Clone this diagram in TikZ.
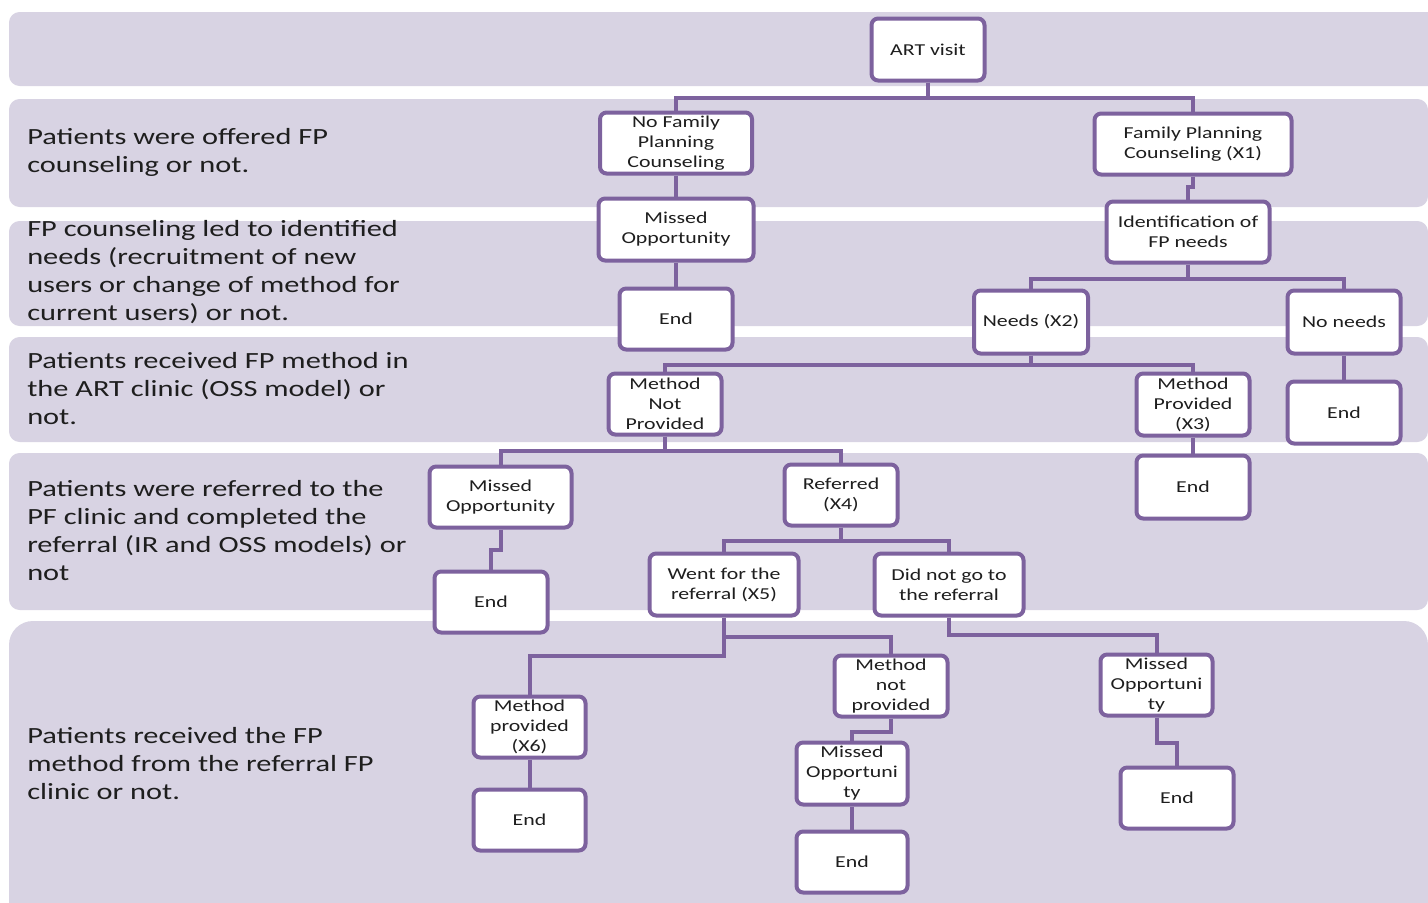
\documentclass[tikz,border=0pt]{standalone}
\usepackage{fontspec}
\setmainfont{Carlito}[FakeStretch=1.31]
\definecolor{band}{RGB}{216,211,227}
\definecolor{pur}{RGB}{125,98,158}
\definecolor{txt}{RGB}{30,30,30}
\begin{document}
\begin{tikzpicture}[x=0.75pt,y=-0.75pt,
  bandbox/.style={fill=band, draw=none, rounded corners=8pt},
  lbl/.style={anchor=west, align=left, text=txt, font=\fontsize{17.4}{21}\selectfont, inner sep=0pt},
  box/.style={draw=pur, line width=3pt, fill=white, rounded corners=5pt, align=center, text=txt, font=\fontsize{12.5}{15}\selectfont, inner sep=0pt},
  sz/.style 2 args={minimum width=#1*0.75pt, minimum height=#2*0.75pt},
  link/.style={draw=pur, line width=3pt}]
\useasboundingbox (0,0) rectangle (1428,903);
\clip (0,0) rectangle (1428,903);
\fill[white] (0,0) rectangle (1428,903);
% bands
\path[bandbox] (9,12) rectangle (1440,86);
\path[bandbox] (9,99) rectangle (1428,207);
\path[bandbox] (9,221) rectangle (1428,326);
\path[bandbox] (9,337) rectangle (1428,442);
\path[bandbox] (9,453) rectangle (1428,610);
\path[bandbox, rounded corners=18pt] (9,621) rectangle (1428,930);
% band labels
\node[lbl] (l2) at (27,152) {Patients were offered FP\\counseling or not.};
\node[lbl] (l3) at (27,272) {FP counseling led to identified\\needs (recruitment of new\\users or change of method for\\current users) or not.};
\node[lbl] (l4) at (27,389) {Patients received FP method in\\the ART clinic (OSS model) or\\not.};
\node[lbl] (l5) at (27,531) {Patients were referred to the\\PF clinic and completed the\\referral (IR and OSS models) or\\not};
\node[lbl] (l6) at (27,764) {Patients received the FP\\method from the referral FP\\clinic or not.};
% nodes
\node[box, sz={113}{62}] (art) at (928,49.5) {ART visit};
\node[box, sz={152}{61}] (nofp) at (676,143) {No Family\\Planning\\Counseling};
\node[box, sz={197}{61}] (fpc) at (1193,144) {Family Planning\\Counseling (X1)};
\node[box, sz={155}{62}] (mo1) at (676,229.5) {Missed\\Opportunity};
\node[box, sz={163}{61}] (ident) at (1188,232) {Identification of\\FP needs};
\node[box, sz={113}{61}] (end1) at (676,319) {End};
\node[box, sz={114}{63}] (needs) at (1031,322) {Needs (X2)};
\node[box, sz={113}{63}] (nonee) at (1344,322) {No needs};
\node[box, sz={113}{61}] (mnp) at (665,404) {Method\\Not\\Provided};
\node[box, sz={113}{62}] (mpx3) at (1193,404.5) {Method\\Provided\\(X3)};
\node[box, sz={113}{62}] (end2) at (1344,412.5) {End};
\node[box, sz={142}{61}] (mo2) at (500.5,497) {Missed\\Opportunity};
\node[box, sz={113}{61}] (ref) at (841,495) {Referred\\(X4)};
\node[box, sz={113}{63}] (end3) at (1193,487) {End};
\node[box, sz={113}{61}] (end4) at (491,602) {End};
\node[box, sz={149}{62}] (went) at (724,584.5) {Went for the\\referral (X5)};
\node[box, sz={149}{62}] (didnot) at (949,584.5) {Did not go to\\the referral};
\node[box, sz={112}{61}] (x6) at (529.5,727) {Method\\provided\\(X6)};
\node[box, sz={113}{61}] (mnp2) at (891,686) {Method\\not\\provided};
\node[box, sz={112}{61}] (mo3) at (1156.5,685) {Missed\\Opportuni\\ty};
\node[box, sz={112}{61}] (end5) at (529.5,820) {End};
\node[box, sz={111}{62}] (mo4) at (852,773.5) {Missed\\Opportuni\\ty};
\node[box, sz={113}{61}] (end6) at (1177,798) {End};
\node[box, sz={111}{61}] (end7) at (852,862) {End};
% connectors
\draw[link] (art.south) -- ++(0,15) -| (nofp.north);
\draw[link] (art.south) -- ++(0,15) -| (fpc.north);
\draw[link] (nofp.south) -- (mo1.north);
\draw[link] (mo1.south) -- (end1.north);
\draw[link] (fpc.south) -- ++(0,10) -| (ident.north);
\draw[link] (ident.south) -- ++(0,14) -| (needs.north);
\draw[link] (ident.south) -- ++(0,14) -| (nonee.north);
\draw[link] (nonee.south) -- (end2.north);
\draw[link] (needs.south) -- ++(0,9) -| (mnp.north);
\draw[link] (needs.south) -- ++(0,9) -| (mpx3.north);
\draw[link] (mpx3.south) -- (end3.north);
\draw[link] (mnp.south) -- ++(0,14) -| (mo2.north);
\draw[link] (mnp.south) -- ++(0,14) -| (ref.north);
\draw[link] (mo2.south) -- ++(0,20) -| (end4.north);
\draw[link] (ref.south) -- ++(0,13) -| (went.north);
\draw[link] (ref.south) -- ++(0,13) -| (didnot.north);
\draw[link] (went.south) -- ++(0,38) -| (x6.north);
\draw[link] (went.south) -- ++(0,19) -| (mnp2.north);
\draw[link] (didnot.south) -- ++(0,17) -| (mo3.north);
\draw[link] (x6.south) -- (end5.north);
\draw[link] (mnp2.south) -- ++(0,13) -| (mo4.north);
\draw[link] (mo4.south) -- (end7.north);
\draw[link] (mo3.south) -- ++(0,25) -| (end6.north);
\end{tikzpicture}
\end{document}
